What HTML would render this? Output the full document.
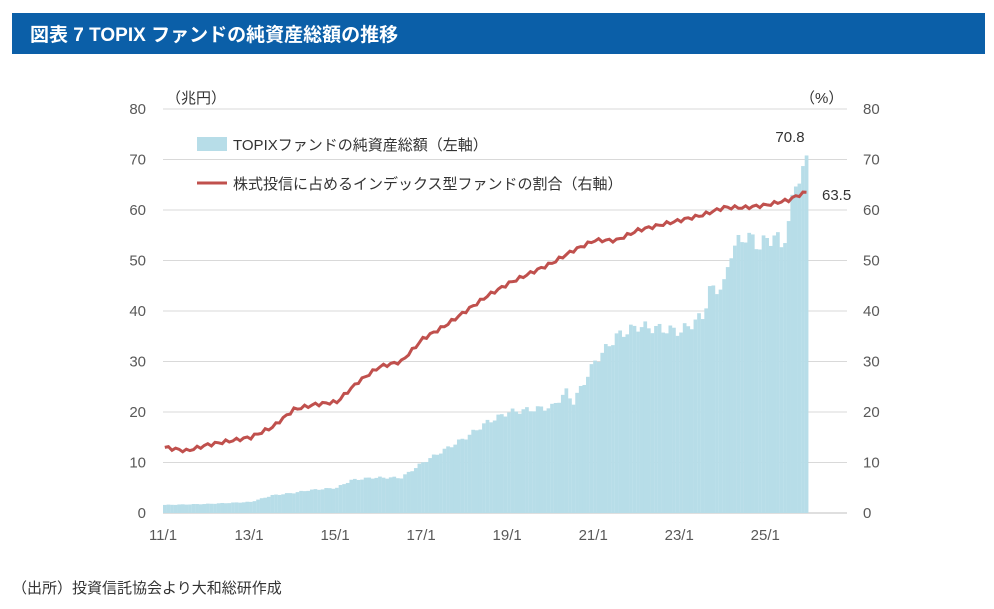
<!DOCTYPE html>
<html><head><meta charset="utf-8"><style>
body{margin:0;width:994px;height:609px;background:#fff;overflow:hidden;font-family:"Liberation Sans","Noto Sans CJK JP",sans-serif;}
</style></head><body>
<svg id="s" width="994" height="609" xmlns="http://www.w3.org/2000/svg" style="position:absolute;left:0;top:0">
<rect x="12" y="13" width="973" height="41" fill="#0b5fa8"/>
<text x="30" y="41" fill="#fff" font-size="19" font-weight="bold" font-family="Liberation Sans,Noto Sans CJK JP,sans-serif">図表 7 TOPIX ファンドの純資産総額の推移</text>
<g id="grid"></g><g id="bars"></g><path id="ln" fill="none" stroke="#c0504d" stroke-width="3"/>
<g font-size="15" fill="#595959" id="lab"></g>
<text x="166" y="103" font-size="15" fill="#333">（兆円）</text>
<text x="800" y="103" font-size="15" fill="#333">（%）</text>
<rect x="197" y="137" width="30" height="14" fill="#b7dde8"/>
<text x="233" y="150" font-size="15" fill="#333">TOPIXファンドの純資産総額（左軸）</text>
<line x1="197" y1="183" x2="227" y2="183" stroke="#c0504d" stroke-width="3"/>
<text x="233" y="189" font-size="15" fill="#333">株式投信に占めるインデックス型ファンドの割合（右軸）</text>
<text x="790" y="142" font-size="15" fill="#333" text-anchor="middle">70.8</text>
<text x="822" y="200" font-size="15" fill="#333">63.5</text>
<text x="12" y="593" font-size="15" fill="#333">（出所）投資信託協会より大和総研作成</text>
</svg>
<script>
const Y=v=>513-v*5.05, X=m=>163+m*3.585;
let g='',l='';
for(let v=0;v<=80;v+=10){if(v>0)g+=`<line x1="163" y1="${Y(v)}" x2="847" y2="${Y(v)}" stroke="#d9d9d9"/>`;
l+=`<text x="146" y="${Y(v)+5}" text-anchor="end">${v}</text><text x="863" y="${Y(v)+5}">${v}</text>`;}
g+=`<line x1="163" y1="513" x2="847" y2="513" stroke="#bfbfbf"/>`;
['11/1','13/1','15/1','17/1','19/1','21/1','23/1','25/1'].forEach((t,i)=>{l+=`<text x="${X(i*24)}" y="540" text-anchor="middle">${t}</text>`;});
document.getElementById('grid').innerHTML=g;document.getElementById('lab').innerHTML=l;
function interp(k,m){for(let i=0;i<k.length-1;i++){if(m>=k[i][0]&&m<=k[i+1][0]){const t=(m-k[i][0])/(k[i+1][0]-k[i][0]);return k[i][1]+t*(k[i+1][1]-k[i][1]);}}return k[k.length-1][1];}
const bk=[[0,1.6],[12,1.8],[24,2.2],[30,3.5],[36,4],[40,4.5],[48,5],[52,6.5],[58,7],[66,7],[72,10],[84,15],[90,18],[96,20],[108,21],[112,24],[114,22],[120,30],[126,35],[132,37],[144,36],[150,39],[152,44],[156,45],[158,52],[162,55],[166,53],[170,55],[172,53],[174,57],[176,66],[178,67],[179,70.8]];
const lk=[[0,13],[6,12.3],[12,13.5],[24,15],[30,17],[36,20.5],[42,21.5],[48,22],[54,26],[60,29],[66,30],[72,34.5],[78,37],[84,40],[90,43],[96,45.5],[102,47.5],[108,49.5],[114,52],[120,54],[126,54],[132,56],[138,57],[144,58],[150,59],[156,60.5],[162,60.5],[168,61],[174,62],[177,63],[179,63.5]];
let b='',p='';
for(let m=0;m<180;m++){let v=interp(bk,m);if(m<179)v*=1+0.03*Math.sin(m*1.7);
b+=`<rect x="${X(m)}" y="${Y(v)}" width="3.7" height="${v*5.05}" fill="#b7dde8"/>`;
let w=interp(lk,m)+(m<179?0.35*Math.sin(m*2.3):0);p+=(m?'L':'M')+(X(m)+1.8).toFixed(1)+' '+Y(w).toFixed(1);}
document.getElementById('bars').innerHTML=b;document.getElementById('ln').setAttribute('d',p);
</script>
</body></html>
